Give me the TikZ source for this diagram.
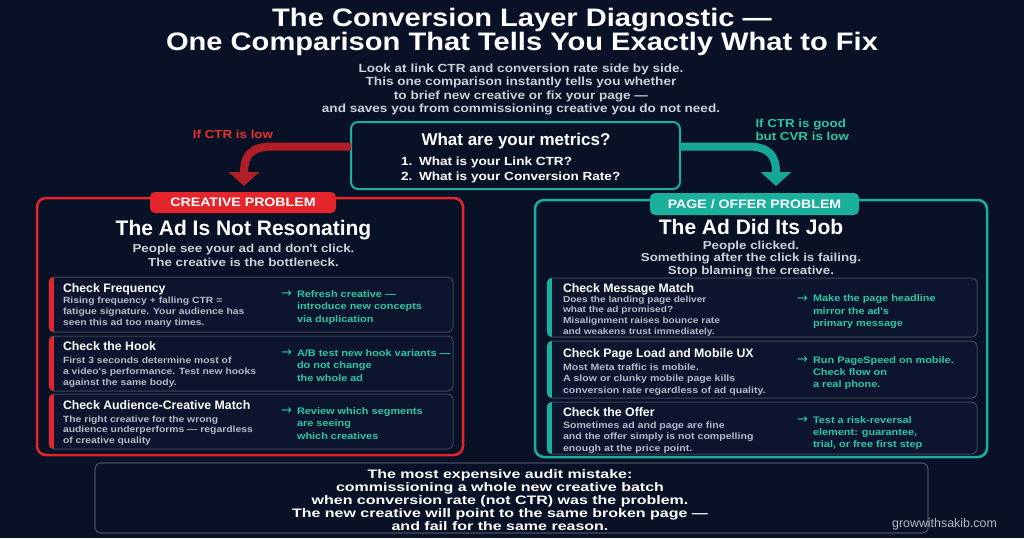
\documentclass[tikz,border=0pt]{standalone}
\usepackage{fontspec}
\setmainfont{Liberation Sans}
\newfontfamily\fw[FakeStretch=1.15]{Liberation Sans}
\newfontfamily\fx[FakeStretch=1.3]{Liberation Sans}
\newfontfamily\fa{DejaVu Sans}
\usetikzlibrary{arrows.meta}
\definecolor{bg}{RGB}{9,17,38}
\definecolor{redA}{RGB}{228,38,44}
\definecolor{redArrow}{RGB}{178,30,40}
\definecolor{redTxt}{RGB}{232,50,46}
\definecolor{tealA}{RGB}{26,176,156}
\definecolor{tealArrow}{RGB}{22,166,150}
\definecolor{tealTxt}{RGB}{46,198,166}
\definecolor{rowfill}{RGB}{12,21,45}
\definecolor{rowline}{RGB}{62,70,92}
\definecolor{grayTxt}{RGB}{205,208,216}
\definecolor{descTxt}{RGB}{180,186,198}
\definecolor{boxline}{RGB}{70,78,100}
\newcommand\fs[2]{\fontsize{#1}{#2}\selectfont}
\newcommand\Lst[1]{\vtop{\let\\\cr\halign{##\hfil\cr#1\crcr}}}
\newcommand\Cst[1]{\vtop{\let\\\cr\halign{\hfil##\hfil\cr#1\crcr}}}
\newcommand\accentbar[2]{\begin{scope}\clip[rounded corners=5pt] (#1.south west) rectangle (#1.north east);
  \fill[#2] (#1.south west) rectangle ([xshift=5pt]#1.north west);\end{scope}}
\begin{document}
\begin{tikzpicture}[x=1pt,y=-1pt,
  t/.style={inner sep=0pt,outer sep=0pt},
  redarr/.style={draw=redArrow,line width=8pt,-{Triangle[width=30pt,length=14pt]}},
  tealarr/.style={draw=tealArrow,line width=8pt,-{Triangle[width=30pt,length=14pt]}},
  rowbox/.style={t,draw=rowline,line width=1pt,rounded corners=5pt,fill=rowfill},
  rowtitle/.style={t,anchor=base west,font=\bfseries\fs{12.3}{14},text=white},
  desc/.style={t,anchor=base west,font=\fw\bfseries\fs{9}{11},text=descTxt},
  act/.style={t,anchor=base west,font=\fw\bfseries\fs{9.5}{12.5},text=tealTxt},
  actarrow/.style={t,anchor=base west,font=\fa\fs{13}{14},text=tealTxt},
  lbl/.style={t,rounded corners=5pt,font=\fw\bfseries\fs{12.3}{14},text=white},
  ptitle/.style={t,anchor=base,font=\bfseries\fs{21}{24},text=white},
  psub/.style={t,anchor=base,font=\fw\bfseries\fs{11.6}{14},text=grayTxt},
]
\fill[bg] (0,0) rectangle (1024,538);
\useasboundingbox (0,0) rectangle (1024,538);

% title
\node[t,anchor=base,font=\fw\bfseries\fs{25.3}{30},text=white] (ti1) at (522,27) {The Conversion Layer Diagnostic —};
\node[t,anchor=base,font=\fw\bfseries\fs{25.3}{30},text=white] (ti2) at (522,50.5) {One Comparison That Tells You Exactly What to Fix};
\node[t,anchor=base,font=\fw\bfseries\fs{11.8}{13.2},text=grayTxt] (sub) at (521,72.7)
  {\Cst{Look at link CTR and conversion rate side by side.\\This one comparison instantly tells you whether\\to brief new creative or fix your page —\\and saves you from commissioning creative you do not need.}};

% panels
\node[t,draw=redA,line width=2.5pt,rounded corners=9pt,minimum width=426pt,minimum height=257pt] (pL) at (250,326.5) {};
\node[t,draw=tealA,line width=2.5pt,rounded corners=9pt,minimum width=452pt,minimum height=257pt] (pR) at (761,328.5) {};
\node[lbl,fill=redA,minimum width=186pt,minimum height=21pt] (lblL) at (243,202.5) {CREATIVE PROBLEM};
\node[lbl,fill=tealA,minimum width=209pt,minimum height=22pt] (lblR) at (754.5,204) {PAGE / OFFER PROBLEM};

% question box and arrows
\node[t,draw=tealA,line width=2pt,rounded corners=7pt,minimum width=329pt,minimum height=67pt] (q) at (515.5,155.5) {};
\draw[redarr] ([yshift=9pt]q.west) -- (272,146.5) .. controls (251,146.5) and (244,156) .. (244,172) -- ([xshift=1pt,yshift=6pt]lblL.north);
\draw[tealarr] ([yshift=9pt]q.east) -- (748,146.5) .. controls (769,146.5) and (776,156) .. (776,172) -- ([xshift=21.5pt,yshift=7pt]lblR.north);
\node[t,anchor=base,font=\bfseries\fs{17}{20},text=white] (qt) at (516,145.7) {What are your metrics?};
\node[t,anchor=base west,font=\fw\bfseries\fs{11.8}{15.7},text=white] (qi) at (401,165)
  {\Lst{\makebox[18pt][l]{1.}What is your Link CTR?\\\makebox[18pt][l]{2.}What is your Conversion Rate?}};
\node[t,anchor=base,font=\fw\bfseries\fs{11.6}{14},text=redTxt] (ifL) at (233,138) {If CTR is low};
\node[t,anchor=base west,font=\fw\bfseries\fs{11.6}{13.5},text=tealTxt] (ifR) at (755.5,127) {\Lst{If CTR is good\\but CVR is low}};

% panel headers
\node[ptitle] (hL) at (243.5,235) {The Ad Is Not Resonating};
\node[psub] (sL) at (243.5,252) {\Cst{People see your ad and don't click.\\The creative is the bottleneck.}};
\node[ptitle] (hR) at (751,234) {The Ad Did Its Job};
\node[psub,font=\fw\bfseries\fs{11.6}{12.7}] (sR) at (751,249) {\Cst{People clicked.\\Something after the click is failing.\\Stop blaming the creative.}};

% left rows
\node[rowbox,minimum width=404pt,minimum height=55pt] (rL1) at (251,304.5) {};
\node[rowbox,minimum width=404pt,minimum height=55pt] (rL2) at (251,363.5) {};
\node[rowbox,minimum width=404pt,minimum height=55pt] (rL3) at (251,421.5) {};
\accentbar{rL1}{redA}\accentbar{rL2}{redA}\accentbar{rL3}{redA}

\node[rowtitle] (tL1) at (63,292) {Check Frequency};
\node[desc] (dL1) at (63,303) {\Lst{Rising frequency + falling CTR =\\fatigue signature. Your audience has\\seen this ad too many times.}};
\node[actarrow] (aaL1) at (281,297.5) {→};
\node[act] (aL1) at (297,297) {\Lst{Refresh creative —\\introduce new concepts\\via duplication}};

\node[rowtitle] (tL2) at (63,350) {Check the Hook};
\node[desc] (dL2) at (63,363) {\Lst{First 3 seconds determine most of\\a video's performance. Test new hooks\\against the same body.}};
\node[actarrow] (aaL2) at (281,356.5) {→};
\node[act] (aL2) at (297,356) {\Lst{A/B test new hook variants —\\do not change\\the whole ad}};

\node[rowtitle] (tL3) at (63,409) {Check Audience-Creative Match};
\node[desc,font=\fw\bfseries\fs{9}{10.5}] (dL3) at (63,422) {\Lst{The right creative for the wrong\\audience underperforms — regardless\\of creative quality}};
\node[actarrow] (aaL3) at (281,414.5) {→};
\node[act] (aL3) at (297,414) {\Lst{Review which segments\\are seeing\\which creatives}};

% right rows
\node[rowbox,minimum width=430pt,minimum height=59pt] (rR1) at (762,307.5) {};
\node[rowbox,minimum width=430pt,minimum height=57pt] (rR2) at (762,369.5) {};
\node[rowbox,minimum width=430pt,minimum height=52pt] (rR3) at (762,428) {};
\accentbar{rR1}{tealA}\accentbar{rR2}{tealA}\accentbar{rR3}{tealA}

\node[rowtitle] (tR1) at (563,292) {Check Message Match};
\node[desc,font=\fw\bfseries\fs{8.8}{10.6}] (dR1) at (563,302.3) {\Lst{Does the landing page deliver\\what the ad promised?\\Misalignment raises bounce rate\\and weakens trust immediately.}};
\node[actarrow] (aaR1) at (797,302.2) {→};
\node[act,font=\fw\bfseries\fs{9.5}{12.3}] (aR1) at (813,301.7) {\Lst{Make the page headline\\mirror the ad's\\primary message}};

\node[rowtitle] (tR2) at (563,357.3) {Check Page Load and Mobile UX};
\node[desc,font=\fw\bfseries\fs{9.2}{11.7}] (dR2) at (563,370) {\Lst{Most Meta traffic is mobile.\\A slow or clunky mobile page kills\\conversion rate regardless of ad quality.}};
\node[actarrow] (aaR2) at (797,363.8) {→};
\node[act,font=\fw\bfseries\fs{9.5}{12}] (aR2) at (813,363.3) {\Lst{Run PageSpeed on mobile.\\Check flow on\\a real phone.}};

\node[rowtitle] (tR3) at (563,416) {Check the Offer};
\node[desc,font=\fw\bfseries\fs{9.2}{11.2}] (dR3) at (563,428.7) {\Lst{Sometimes ad and page are fine\\and the offer simply is not compelling\\enough at the price point.}};
\node[actarrow] (aaR3) at (797,423.8) {→};
\node[act,font=\fw\bfseries\fs{9.5}{12.2}] (aR3) at (813,423.3) {\Lst{Test a risk-reversal\\element: guarantee,\\trial, or free first step}};

% bottom
\node[t,draw=boxline,line width=1.2pt,rounded corners=6pt,minimum width=833pt,minimum height=70pt] (bot) at (511.5,498) {};
\node[t,anchor=base,font=\fx\bfseries\fs{12.3}{13.1},text=white] (botT) at (500,478.3)
  {\Cst{The most expensive audit mistake:\\commissioning a whole new creative batch\\when conversion rate (not CTR) was the problem.\\The new creative will point to the same broken page —\\and fail for the same reason.}};
\node[t,anchor=base,font=\fs{12.4}{14},text=descTxt] (site) at (944.5,527.3) {growwithsakib.com};
\end{tikzpicture}
\end{document}
